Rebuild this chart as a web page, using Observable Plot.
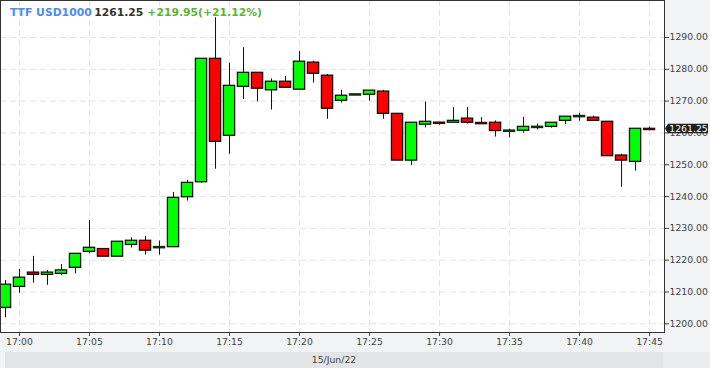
<!DOCTYPE html>
<html>
<head>
<meta charset="utf-8">
<script src="https://cdn.jsdelivr.net/npm/d3@7"></script>
<script src="https://cdn.jsdelivr.net/npm/@observablehq/plot@0.6"></script>
<style>
  html, body { margin: 0; padding: 0; background: #f2f3f4; }
  #wrap { position: relative; width: 710px; height: 368px; background: #f2f3f4; overflow: hidden; }
  #wrap svg { display: block; }
  #band { position: absolute; left: 5px; top: 352px; width: 658px; height: 16px; background: #e3e4e6;
          font-family: "DejaVu Sans", sans-serif; font-size: 9.3px; color: #444; text-align: center; line-height: 16px; }
  #bandR { position: absolute; left: 663px; top: 352px; width: 47px; height: 16px; background: #ebeced; }
</style>
</head>
<body>
<div id="wrap"><div id="band">15/Jun/22</div><div id="bandR"></div></div>
<script>
// ---- data ----
const times = ["16:59","17:00","17:01","17:02","17:03","17:04","17:05","17:06","17:07","17:08",
  "17:09","17:10","17:11","17:12","17:13","17:14","17:15","17:16","17:17","17:18",
  "17:19","17:20","17:21","17:22","17:23","17:24","17:25","17:26","17:27","17:28",
  "17:29","17:30","17:31","17:32","17:33","17:34","17:35","17:36","17:37","17:38",
  "17:39","17:40","17:41","17:42","17:43","17:44","17:45"];
const opens = [1205.0,1211.6,1216.1,1215.4,1215.7,1217.6,1222.6,1223.5,1221.1,1224.8,
  1226.1,1224.1,1224.1,1239.8,1244.5,1283.3,1259.1,1274.5,1278.9,1273.4,
  1276.1,1273.6,1282.1,1278.0,1270.1,1272.1,1272.0,1273.0,1266.0,1251.3,
  1262.6,1263.2,1263.2,1264.5,1263.1,1263.2,1260.7,1260.7,1261.9,1261.9,
  1263.8,1265.3,1264.8,1263.5,1252.9,1250.9,1261.25];
const highs = [1213.6,1217.1,1221.2,1216.8,1218.6,1222.0,1232.5,1223.5,1225.8,1227.0,
  1227.5,1226.0,1241.3,1245.1,1283.3,1296.2,1281.9,1286.8,1278.9,1277.0,
  1277.7,1285.6,1282.5,1278.4,1273.4,1272.1,1273.3,1273.4,1266.0,1263.2,
  1269.7,1263.2,1268.0,1268.0,1264.8,1263.8,1261.2,1264.9,1262.8,1263.2,
  1265.1,1266.2,1265.3,1263.5,1253.3,1261.3,1261.9];
const lows = [1201.9,1209.6,1212.8,1212.1,1215.1,1215.7,1222.0,1221.1,1221.1,1223.8,
  1221.6,1221.6,1224.1,1238.6,1244.2,1248.6,1253.3,1270.5,1269.7,1267.2,
  1274.2,1273.6,1275.7,1264.3,1269.4,1272.1,1270.0,1264.3,1251.3,1249.8,
  1261.6,1262.4,1263.2,1262.8,1262.8,1258.7,1258.4,1259.9,1260.9,1261.5,
  1262.6,1263.7,1263.8,1252.7,1242.9,1248.0,1261.25];
const closes = [1212.3,1214.5,1215.4,1216.1,1216.8,1222.0,1223.9,1221.1,1225.8,1226.1,
  1223.0,1224.1,1239.6,1244.3,1283.3,1257.2,1274.8,1278.9,1273.9,1276.1,
  1274.2,1282.4,1278.6,1267.6,1271.7,1272.1,1273.3,1266.0,1251.3,1263.2,
  1263.5,1263.2,1263.8,1263.2,1263.1,1260.6,1260.7,1261.9,1261.9,1263.2,
  1265.1,1265.3,1263.8,1252.7,1251.3,1261.3,1261.25];
const yTicks = [1200,1210,1220,1230,1240,1250,1260,1270,1280,1290];
const xTickLabels = ["17:00","17:05","17:10","17:15","17:20","17:25","17:30","17:35","17:40","17:45"];
const dateLabel = "15/Jun/22";
const symbol = "TTF USD1000";
const lastPrice = "1261.25";
const change = "+219.95(+21.12%)";

// ---- build table ----
const day = "2022-06-15T";
const toDate = s => new Date(day + s + ":00Z");
const candles = times.map((t, i) => ({
  date: toDate(t),
  open: opens[i], high: highs[i], low: lows[i], close: closes[i],
  prev: i > 0 ? closes[i - 1] : opens[i]
}));
const half = 24 * 1000;
const bodies = candles.filter(d => Math.abs(d.close - d.open) > 0.05);
const dojis = candles.filter(d => Math.abs(d.close - d.open) <= 0.05);
const xTicks = xTickLabels.map(toDate);
document.getElementById("band").textContent = dateLabel;

const chart = Plot.plot({
  width: 710,
  height: 352,
  marginTop: 0,
  marginLeft: 0,
  marginRight: 46,
  marginBottom: 20,
  style: { background: "transparent", fontFamily: "DejaVu Sans", fontSize: "9.3px", color: "#444" },
  color: { type: "identity" },
  x: {
    type: "utc",
    domain: [new Date(toDate("17:00") - 81400), new Date(+toDate("17:00") + 2764000)],
    ticks: xTicks, tickFormat: d3.utcFormat("%H:%M"), tickSize: 4, tickPadding: 2, label: null
  },
  y: {
    domain: [1197.27, 1301.63], ticks: yTicks, tickFormat: d3.format(".2f"),
    tickSize: 4, tickPadding: 1, label: null, axis: "right"
  },
  marks: [
    Plot.frame({ fill: "white", stroke: "none" }),
    Plot.ruleX(xTicks, { stroke: "#e2e2e2", strokeDasharray: "6,4" }),
    Plot.ruleY(yTicks, { stroke: "#e2e2e2", strokeDasharray: "6,4" }),
    Plot.ruleX(candles, { x: "date", y1: "low", y2: "high", stroke: "#111", strokeWidth: 1 }),
    Plot.rect(bodies, {
      x1: d => new Date(+d.date - half), x2: d => new Date(+d.date + half),
      y1: "open", y2: "close",
      fill: d => d.close > d.open ? "#00ff00" : "#ff0000",
      stroke: "#111", strokeWidth: 1.3
    }),
    Plot.ruleY(dojis, {
      x1: d => new Date(+d.date - half - 2500), x2: d => new Date(+d.date + half + 2500),
      y: "close", stroke: d => d.close >= d.prev ? "#0c2e0c" : "#3a0c0c", strokeWidth: 2.6
    }),
    Plot.frame({ stroke: "#333" })
  ]
});

const wrap = document.getElementById("wrap");
wrap.insertBefore(chart, wrap.firstChild);
const svg = d3.select(chart);

// header
const hdr = svg.append("text")
  .attr("x", 10).attr("y", 15.5)
  .attr("text-anchor", "start")
  .attr("font-family", "'DejaVu Sans', sans-serif")
  .attr("font-weight", "bold").attr("font-size", 10.8);
hdr.append("tspan").attr("fill", "#4d8af0").text(symbol);
hdr.append("tspan").attr("fill", "#333").attr("dx", 2.5).text(lastPrice);
hdr.append("tspan").attr("fill", "#5cb531").attr("dx", 4).text(change);

// last price marker on the right axis
const ys = chart.scale("y");
const cy = ys.apply(closes[closes.length - 1]);
const xr = 664;
svg.append("path")
  .attr("d", `M${xr + 1},${cy} L${xr + 4},${cy - 4.8} L${xr + 44},${cy - 4.8} L${xr + 44},${cy + 4.8} L${xr + 4},${cy + 4.8} Z`)
  .attr("fill", "#1e1e1e");
svg.append("text")
  .attr("x", xr + 24.5).attr("y", cy).attr("dy", "0.36em")
  .attr("text-anchor", "middle").attr("fill", "white")
  .attr("font-family", "DejaVu Sans").attr("font-size", 9.3)
  .text(lastPrice);
</script>
</body>
</html>
